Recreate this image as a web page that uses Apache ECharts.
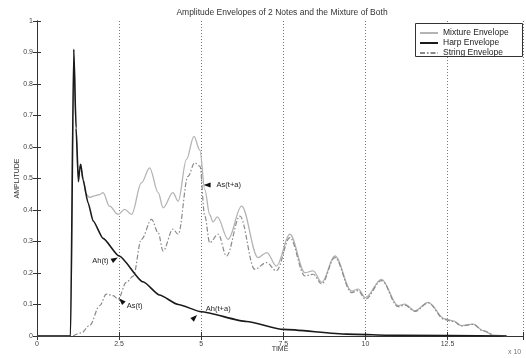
<!DOCTYPE html>
<html>
<head>
<meta charset="utf-8">
<script src="https://cdn.jsdelivr.net/npm/echarts@6/dist/echarts.min.js"></script>
<style>
html,body{margin:0;padding:0;background:#fff;}
#c{width:526px;height:358px;}
</style>
</head>
<body>
<div id="c"></div>
<script>
// ---- data ----
const xTicks = [0, 2.5, 5, 7.5, 10, 12.5];
const yTicks = [0, 0.1, 0.2, 0.3, 0.4, 0.5, 0.6, 0.7, 0.8, 0.9, 1];

const mixtureT = [0, 1.02, 1.12, 1.19, 1.26, 1.33, 1.40, 1.50, 1.60, 1.75, 1.91, 2.01, 2.21, 2.47, 2.67, 2.88, 3.18, 3.43, 3.69, 3.84, 4.14, 4.30, 4.55, 4.78, 4.96, 5.11, 5.26, 5.36, 5.49, 5.82, 6.23, 6.73, 7.00, 7.29, 7.70, 8.16, 8.41, 8.67, 9.07, 9.58, 9.78, 10.0, 10.49, 11.0, 11.2, 11.51, 11.91, 12.42, 12.68, 12.93, 13.28, 13.59, 13.89, 14.3];
const mixtureA = [0, 0, 0.91, 0.66, 0.50, 0.545, 0.50, 0.45, 0.44, 0.445, 0.449, 0.455, 0.412, 0.386, 0.402, 0.386, 0.486, 0.534, 0.455, 0.407, 0.455, 0.428, 0.56, 0.634, 0.59, 0.465, 0.385, 0.362, 0.378, 0.307, 0.412, 0.249, 0.265, 0.222, 0.323, 0.201, 0.207, 0.170, 0.254, 0.143, 0.149, 0.122, 0.180, 0.096, 0.101, 0.080, 0.107, 0.054, 0.048, 0.033, 0.038, 0.017, 0.003, 0];

const harpT = [0, 1.02, 1.12, 1.19, 1.26, 1.30, 1.33, 1.40, 1.555, 1.71, 2.01, 2.5, 3.23, 3.73, 4.3, 5.0, 6.38, 7.5, 9.43, 11.0, 14.3];
const harpA = [0, 0, 0.91, 0.66, 0.49, 0.53, 0.545, 0.497, 0.423, 0.365, 0.310, 0.254, 0.172, 0.130, 0.100, 0.077, 0.046, 0.021, 0.006, 0.002, 0];

const stringT = [1.1, 1.35, 1.6, 1.91, 2.11, 2.32, 2.47, 2.72, 2.93, 3.18, 3.49, 3.69, 3.84, 4.14, 4.30, 4.60, 4.80, 4.96, 5.11, 5.26, 5.52, 5.77, 6.18, 6.63, 6.99, 7.29, 7.70, 8.16, 8.41, 8.67, 9.07, 9.58, 9.78, 10.0, 10.49, 11.0, 11.2, 11.51, 11.91, 12.42, 12.68, 12.93, 13.28, 13.59, 13.89];
const stringA = [0, 0.01, 0.033, 0.096, 0.133, 0.128, 0.117, 0.170, 0.190, 0.307, 0.370, 0.328, 0.270, 0.339, 0.323, 0.507, 0.550, 0.539, 0.381, 0.296, 0.323, 0.254, 0.381, 0.212, 0.233, 0.207, 0.312, 0.191, 0.196, 0.165, 0.249, 0.138, 0.144, 0.117, 0.176, 0.093, 0.098, 0.078, 0.105, 0.052, 0.046, 0.032, 0.037, 0.016, 0.002];

const seriesNames = ['Mixture Envelope', 'Harp Envelope', 'String Envelope'];

// annotations: [label, t, amplitude]
const notes = [
  ['Ah(t)', 2.37, 0.244],
  ['As(t)', 2.57, 0.112],
  ['As(t+a)', 5.18, 0.479],
  ['Ah(t+a)', 4.80, 0.059]
];

const zip = (a, b) => a.map((v, i) => [v, b[i]]);
const FONT = 'Liberation Sans, Arial, sans-serif';

const chart = echarts.init(document.getElementById('c'));
const axisLine = { show: true, lineStyle: { color: '#333', width: 1 } };
const noteStyle = [
  { rot: -60, pos: 'left', dist: 2, off: [0, 2] },
  { rot: 45, pos: 'right', dist: 1, off: [0, 5] },
  { rot: 90, pos: 'right', dist: 6, off: [0, 0] },
  { rot: -45, pos: 'right', dist: 7, off: [0, -8] }
];

chart.setOption({
  animation: false,
  backgroundColor: '#fff',
  textStyle: { fontFamily: FONT },
  title: {
    text: 'Amplitude Envelopes of 2 Notes and the Mixture of Both',
    left: 282, top: 8, padding: 0, textAlign: 'center',
    textStyle: { fontSize: 8.5, fontWeight: 'normal', color: '#333', fontFamily: FONT }
  },
  grid: { left: 37, right: 3, top: 21, bottom: 21 },
  legend: {
    data: seriesNames,
    orient: 'vertical', left: 419, top: 28, padding: 0,
    itemWidth: 18, itemHeight: 10, itemGap: 0,
    itemStyle: { opacity: 0 },
    z: 20,
    textStyle: { fontSize: 8.5, color: '#222', fontFamily: FONT, lineHeight: 10 }
  },
  graphic: [
    { type: 'rect', z: 15, shape: { x: 415.5, y: 23.5, width: 107, height: 33 }, style: { fill: '#fff', stroke: '#333', lineWidth: 1 } },
    { type: 'text', z: 15, left: 508, top: 349, style: { text: 'x 10', fontSize: 7, fill: '#777', fontFamily: FONT } }
  ],
  xAxis: [{
    type: 'value', min: 0, max: 14.8, interval: 2.5, position: 'bottom',
    axisLine, axisTick: { inside: true, length: 4, lineStyle: { color: '#333' } },
    axisLabel: { fontSize: 7, color: '#444', margin: 5,
      formatter: v => xTicks.indexOf(+v.toFixed(2)) >= 0 ? String(+v.toFixed(2)) : '' },
    splitLine: { show: true, lineStyle: { type: [1, 2], color: '#777', width: 1 } },
    name: 'TIME', nameLocation: 'middle', nameGap: 10, nameMoveOverlap: false,
    nameTextStyle: { fontSize: 7, color: '#333', verticalAlign: 'top' }
  }, {
    type: 'value', min: 0, max: 14.8, interval: 2.5, position: 'top',
    axisLine, axisTick: { inside: true, length: 4, lineStyle: { color: '#333' } },
    axisLabel: { show: false }, splitLine: { show: false }
  }],
  yAxis: [{
    type: 'value', min: 0, max: 1, interval: 0.1, position: 'left',
    axisLine, axisTick: { inside: true, length: 4, lineStyle: { color: '#333' } },
    axisLabel: { fontSize: 7, color: '#444', margin: 4,
      formatter: v => String(yTicks[Math.round(v * 10)]) },
    splitLine: { show: false },
    name: 'AMPLITUDE', nameLocation: 'middle', nameGap: 16, nameRotate: 90, nameMoveOverlap: false,
    nameTextStyle: { fontSize: 7, color: '#333' }
  }, {
    type: 'value', min: 0, max: 1, interval: 0.1, position: 'right',
    axisLine, axisTick: { inside: true, length: 4, lineStyle: { color: '#333' } },
    axisLabel: { show: false }, splitLine: { show: false }
  }],
  series: [{
    name: seriesNames[0], type: 'line', data: zip(mixtureT, mixtureA),
    showSymbol: false, symbol: 'none', smooth: 0.35, smoothMonotone: 'x',
    lineStyle: { color: '#b4b4b4', width: 1.3 }, itemStyle: { color: '#b4b4b4' }, z: 2
  }, {
    name: seriesNames[1], type: 'line', data: zip(harpT, harpA),
    showSymbol: false, symbol: 'none', smooth: 0.2, smoothMonotone: 'x',
    lineStyle: { color: '#1a1a1a', width: 1.6 }, itemStyle: { color: '#1a1a1a' }, z: 4,
    markPoint: {
      symbol: 'triangle', symbolSize: [5, 7], silent: true,
      itemStyle: { color: '#111', opacity: 1 },
      data: notes.map((n, i) => ({
        coord: [n[1], n[2]], symbolRotate: noteStyle[i].rot,
        label: { show: true, formatter: n[0], position: noteStyle[i].pos, distance: noteStyle[i].dist,
          offset: noteStyle[i].off, fontSize: 7.5, color: '#222', fontFamily: FONT }
      }))
    }
  }, {
    name: seriesNames[2], type: 'line', data: zip(stringT, stringA),
    showSymbol: false, symbol: 'none', smooth: 0.35, smoothMonotone: 'x',
    lineStyle: { color: '#8a8a8a', width: 1.2, type: [5, 2, 1.5, 2] }, itemStyle: { color: '#8a8a8a' }, z: 3
  }]
});
</script>
</body>
</html>
